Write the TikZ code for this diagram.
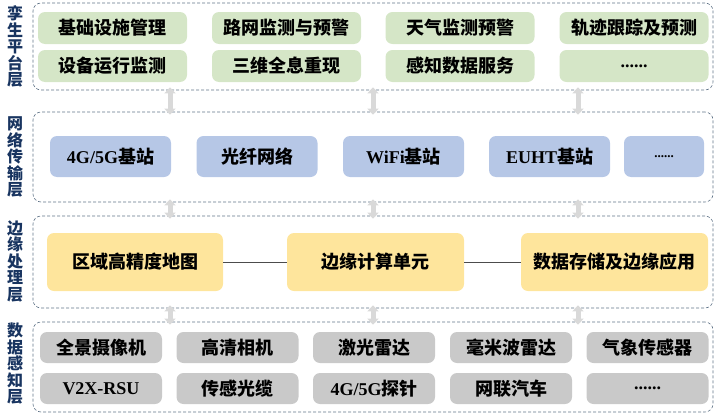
\documentclass[tikz,border=0pt]{standalone}
\usepackage{fontspec}
\setmainfont{Liberation Serif}
\newfontfamily\cjk{Noto Sans CJK SC}
\usetikzlibrary{arrows.meta}
\definecolor{TwinGreen}{RGB}{213,230,199}
\definecolor{NetBlue}{RGB}{182,199,230}
\definecolor{EdgeYellow}{RGB}{254,229,156}
\definecolor{SenseGray}{RGB}{201,201,201}
\definecolor{TagBlue}{RGB}{24,52,96}
\definecolor{LayerLine}{RGB}{95,115,135}
\newcommand{\en}[1]{{\normalfont\bfseries #1}}

\begin{document}
\begin{tikzpicture}[x=1pt, y=-1pt,
    layer/.style={rectangle, draw=LayerLine, line width=0.6pt, dash pattern=on 3pt off 2pt,
      rounded corners=8pt, minimum width=680pt},
    tag/.style={inner sep=0pt, align=center, text=TagBlue,
      font=\cjk\bfseries\fontsize{16}{16.5}\selectfont},
    cell/.style={rectangle, rounded corners=7pt, inner sep=0pt,
      font=\cjk\bfseries\fontsize{18}{18}\selectfont},
    twin/.style={cell, fill=TwinGreen, minimum width=149pt, minimum height=32pt},
    net/.style={cell, fill=NetBlue, minimum width=121pt, minimum height=41pt},
    edge/.style={cell, fill=EdgeYellow, minimum height=58pt},
    sense/.style={cell, fill=SenseGray, minimum width=122pt, minimum height=31pt},
    updown/.style={draw=gray!30, line width=5pt, shorten <=-3pt, shorten >=-3pt,
      {Triangle[width=11pt,length=6pt]}-{Triangle[width=11pt,length=6pt]}},
    link/.style={draw=black!70, line width=0.8pt}]
      \useasboundingbox (0,0) rectangle (720,415);

      % layers
      \node (L1) [layer, minimum height=87pt] at (373,46.5) {};
      \node (L2) [layer, minimum height=90pt] at (373,157) {};
      \node (L3) [layer, minimum height=92pt] at (373,262) {};
      \node (L4) [layer, minimum height=90pt] at (373,367) {};

      \node (t1) [tag] at (15,46.5) {孪\\生\\平\\台\\层};
      \node (t2) [tag] at (15,157) {网\\络\\传\\输\\层};
      \node (t3) [tag] at (15,261) {边\\缘\\处\\理\\层};
      \node (t4) [tag] at (15,364) {数\\据\\感\\知\\层};

      % twin platform
      \node (a1) [twin] at (112.5,28) {基础设施管理};
      \node (a2) [twin] at (286.5,28) {路网监测与预警};
      \node (a3) [twin] at (460,28) {天气监测预警};
      \node (a4) [twin] at (634,28) {轨迹跟踪及预测};
      \node (a5) [twin] at (112.5,66) {设备运行监测};
      \node (a6) [twin] at (286.5,66) {三维全息重现};
      \node (a7) [twin] at (460,66) {感知数据服务};
      \node (a8) [twin] at (634,66) {\en{......}};

      % network
      \node (b1) [net] at (110.5,156.5) {\en{4G/5G}基站};
      \node (b2) [net] at (257,156.5) {光纤网络};
      \node (b3) [net] at (403.5,156.5) {\en{WiFi}基站};
      \node (b4) [net] at (549.5,156.5) {\en{EUHT}基站};
      \node (b5) [net, minimum width=80pt] at (664,156.5) {\en{\fontsize{13}{13}\selectfont......}};

      % edge processing
      \node (c1) [edge, minimum width=176pt] at (135,262) {区域高精度地图};
      \node (c2) [edge, minimum width=177pt] at (375.5,262) {边缘计算单元};
      \node (c3) [edge, minimum width=187pt] at (614.5,262) {数据存储及边缘应用};
      \draw[link] (c1) -- (c2);
      \draw[link] (c2) -- (c3);

      % sensing
      \node (d1) [sense] at (101,347.5) {全景摄像机};
      \node (d2) [sense] at (237.5,347.5) {高清相机};
      \node (d3) [sense] at (374,347.5) {激光雷达};
      \node (d4) [sense] at (511,347.5) {毫米波雷达};
      \node (d5) [sense] at (647.5,347.5) {气象传感器};
      \node (d6) [sense] at (101,388.5) {\en{V2X-RSU}};
      \node (d7) [sense] at (237.5,388.5) {传感光缆};
      \node (d8) [sense] at (374,388.5) {\en{4G/5G}探针};
      \node (d9) [sense] at (511,388.5) {网联汽车};
      \node (d10) [sense] at (647.5,388.5) {\en{......}};

      % arrows between layers
      \coordinate (x1) at (170,0);
      \coordinate (x2) at (373,0);
      \coordinate (x3) at (578,0);
      \draw[updown] (L1.south -| x1) -- (L2.north -| x1);
      \draw[updown] (L1.south -| x2) -- (L2.north -| x2);
      \draw[updown] (L1.south -| x3) -- (L2.north -| x3);
      \draw[updown] (L2.south -| x1) -- (L3.north -| x1);
      \draw[updown] (L2.south -| x2) -- (L3.north -| x2);
      \draw[updown] (L2.south -| x3) -- (L3.north -| x3);
      \draw[updown] (L3.south -| x1) -- (L4.north -| x1);
      \draw[updown] (L3.south -| x2) -- (L4.north -| x2);
      \draw[updown] (L3.south -| x3) -- (L4.north -| x3);
    \end{tikzpicture}
\end{document}
